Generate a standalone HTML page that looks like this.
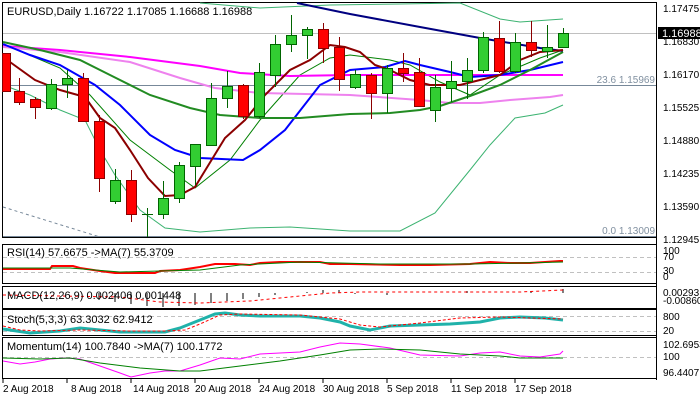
<!DOCTYPE html>
<html><head><meta charset="utf-8"><style>
body{margin:0;background:#fff;}
svg{display:block;font-family:"Liberation Sans",sans-serif;font-size:10px;}
</style></head><body>
<svg width="700" height="400" viewBox="0 0 700 400" xmlns="http://www.w3.org/2000/svg">
<rect width="700" height="400" fill="#fff"/>
<!-- main frame -->
<rect x="2.5" y="2.5" width="654" height="235" fill="none" stroke="#000"/>
<line x1="3" y1="33.5" x2="656" y2="33.5" stroke="#c0c0c0"/>
<line x1="3" y1="85.5" x2="656" y2="85.5" stroke="#778899"/>
<line x1="3" y1="236.5" x2="656" y2="236.5" stroke="#778899"/>
<polyline points="3,207 100,237" fill="none" stroke="#778899" stroke-dasharray="3,3"/>
<text x="655" y="83" text-anchor="end" fill="#8090a0">23.6 1.15969</text>
<text x="655" y="234" text-anchor="end" fill="#8090a0">0.0 1.13009</text>
<text x="7" y="15" fill="#000" font-size="11">EURUSD,Daily  1.16722 1.17085 1.16688 1.16988</text>
<!-- bollinger -->
<g fill="none" stroke="#3cb371" stroke-width="1">
<polyline points="200,3 260,8 330,5 400,4 460,3 500,19 520,22 563,19"/>
<polyline points="3,85 30,95 60,110 85,120 100,150 115,175 140,210 165,228 200,232 250,228 290,227 350,231 400,231 435,213 470,170 490,145 515,118 545,113 563,105"/>
</g>
<polyline fill="none" stroke="#008000" points="3,44 60,68 90,95 130,140 170,170 195,188 230,160 260,120 300,75 330,58 350,55 390,60 410,65 440,82 470,95 500,75 540,58 563,50"/>
<g fill="none" stroke-width="2">
<polyline stroke="#000080" points="297,3 350,14 420,27 480,38 540,48 563,51"/>
<polyline stroke="#ff00ff" points="3,46 60,50 130,57 200,66 240,73 290,76 350,75 563,75"/>
<polyline stroke="#ee82ee" points="3,47 60,52 130,62 180,78 215,88 260,93 350,95 420,100 450,103 480,103 510,100 550,97 563,95"/>
<polyline stroke="#0000ff" points="3,44 30,55 60,65 95,85 120,105 150,135 175,150 200,158 243,160 260,150 285,130 320,85 350,70 385,67 405,61 420,65 450,72 470,77 500,75 530,70 563,62"/>
<polyline stroke="#228b22" points="3,42 40,50 80,60 110,75 150,95 190,108 220,115 260,118 300,118 350,114 390,113 420,110 440,106 470,96 500,85 530,70 563,52"/>
<polyline stroke="#8b0000" points="3,57 35,80 60,90 85,97 100,118 115,128 130,150 148,178 165,196 180,195 195,187 225,138 245,120 265,95 290,70 310,60 330,45 345,47 360,52 375,65 390,70 410,80 430,85 460,85 480,80 500,75 520,60 540,52 563,50"/>
</g>
<!-- candles -->
<g id="c" stroke-width="1">
<script>/* none */</script>
</g>
<g stroke="#006400">
<line x1="19.5" y1="78" x2="19.5" y2="105" stroke="#8b0000"/><rect x="14.5" y="91.5" width="10" height="11" fill="#ff0000" stroke="#8b0000"/>
<rect x="2.5" y="53.5" width="8" height="38" fill="#ff0000" stroke="#8b0000"/>
<line x1="35.5" y1="97" x2="35.5" y2="119" stroke="#8b0000"/><rect x="30.5" y="99.5" width="10" height="8" fill="#ff0000" stroke="#8b0000"/>
<line x1="51.5" y1="79" x2="51.5" y2="110"/><rect x="46.5" y="84.5" width="10" height="24" fill="#32cd32"/>
<line x1="67.5" y1="70" x2="67.5" y2="98"/><rect x="62.5" y="78.5" width="10" height="6" fill="#32cd32"/>
<line x1="83.5" y1="73" x2="83.5" y2="122" stroke="#8b0000"/><rect x="78.5" y="78.5" width="10" height="43" fill="#ff0000" stroke="#8b0000"/>
<line x1="99.5" y1="115" x2="99.5" y2="192" stroke="#8b0000"/><rect x="94.5" y="121.5" width="10" height="57" fill="#ff0000" stroke="#8b0000"/>
<line x1="115.5" y1="169" x2="115.5" y2="204"/><rect x="110.5" y="180.5" width="10" height="21" fill="#32cd32"/>
<line x1="131.5" y1="170" x2="131.5" y2="222" stroke="#8b0000"/><rect x="126.5" y="180.5" width="10" height="34" fill="#ff0000" stroke="#8b0000"/>
<line x1="147.5" y1="208" x2="147.5" y2="237"/><line x1="142" y1="214.5" x2="153" y2="214.5"/>
<line x1="163.5" y1="181" x2="163.5" y2="219"/><rect x="158.5" y="198.5" width="10" height="16" fill="#32cd32"/>
<line x1="179.5" y1="162" x2="179.5" y2="203"/><rect x="174.5" y="165.5" width="10" height="33" fill="#32cd32"/>
<line x1="195.5" y1="144" x2="195.5" y2="185"/><rect x="190.5" y="144.5" width="10" height="22" fill="#32cd32"/>
<line x1="211.5" y1="83" x2="211.5" y2="146"/><rect x="206.5" y="98.5" width="10" height="47" fill="#32cd32"/>
<line x1="227.5" y1="71" x2="227.5" y2="108"/><rect x="222.5" y="86.5" width="10" height="12" fill="#32cd32"/>
<line x1="243.5" y1="84" x2="243.5" y2="119" stroke="#8b0000"/><rect x="238.5" y="85.5" width="10" height="31" fill="#ff0000" stroke="#8b0000"/>
<line x1="259.5" y1="63" x2="259.5" y2="118"/><rect x="254.5" y="72.5" width="10" height="44" fill="#32cd32"/>
<line x1="275.5" y1="35" x2="275.5" y2="87"/><rect x="270.5" y="44.5" width="10" height="31" fill="#32cd32"/>
<line x1="291.5" y1="15" x2="291.5" y2="52"/><rect x="286.5" y="35.5" width="10" height="9" fill="#32cd32"/>
<line x1="307.5" y1="27" x2="307.5" y2="59"/><rect x="302.5" y="29.5" width="10" height="6" fill="#32cd32"/>
<line x1="323.5" y1="23" x2="323.5" y2="63" stroke="#8b0000"/><rect x="318.5" y="29.5" width="10" height="19" fill="#ff0000" stroke="#8b0000"/>
<line x1="339.5" y1="37" x2="339.5" y2="91" stroke="#8b0000"/><rect x="334.5" y="47.5" width="10" height="32" fill="#ff0000" stroke="#8b0000"/>
<line x1="355.5" y1="70" x2="355.5" y2="89"/><rect x="350.5" y="74.5" width="10" height="13" fill="#32cd32"/>
<line x1="371.5" y1="73" x2="371.5" y2="119" stroke="#8b0000"/><rect x="366.5" y="75.5" width="10" height="18" fill="#ff0000" stroke="#8b0000"/>
<line x1="387.5" y1="65" x2="387.5" y2="113"/><rect x="382.5" y="68.5" width="10" height="25" fill="#32cd32"/>
<line x1="403.5" y1="53" x2="403.5" y2="82" stroke="#8b0000"/><rect x="398.5" y="68.5" width="10" height="5" fill="#ff0000" stroke="#8b0000"/>
<line x1="419.5" y1="58" x2="419.5" y2="107" stroke="#8b0000"/><rect x="414.5" y="72.5" width="10" height="34" fill="#ff0000" stroke="#8b0000"/>
<line x1="435.5" y1="75" x2="435.5" y2="122"/><rect x="430.5" y="87.5" width="10" height="23" fill="#32cd32"/>
<line x1="451.5" y1="61" x2="451.5" y2="102"/><rect x="446.5" y="81.5" width="10" height="7" fill="#32cd32"/>
<line x1="467.5" y1="58" x2="467.5" y2="99"/><rect x="462.5" y="70.5" width="10" height="11" fill="#32cd32"/>
<line x1="483.5" y1="32" x2="483.5" y2="73"/><rect x="478.5" y="37.5" width="10" height="33" fill="#32cd32"/>
<line x1="499.5" y1="21" x2="499.5" y2="73" stroke="#8b0000"/><rect x="494.5" y="38.5" width="10" height="33" fill="#ff0000" stroke="#8b0000"/>
<line x1="515.5" y1="33" x2="515.5" y2="73"/><rect x="510.5" y="42.5" width="10" height="29" fill="#32cd32"/>
<line x1="531.5" y1="21" x2="531.5" y2="57" stroke="#8b0000"/><rect x="526.5" y="42.5" width="10" height="8" fill="#ff0000" stroke="#8b0000"/>
<line x1="547.5" y1="25" x2="547.5" y2="58"/><rect x="542.5" y="47.5" width="10" height="4" fill="#32cd32"/>
<line x1="563.5" y1="28" x2="563.5" y2="47"/><rect x="558.5" y="33.5" width="10" height="14" fill="#32cd32"/>
</g>
<!-- right axis -->
<g fill="#000">
<text x="663" y="12">1.17475</text>
<text x="663" y="45">1.16830</text>
<text x="663" y="78">1.16170</text>
<text x="663" y="111">1.15525</text>
<text x="663" y="144">1.14880</text>
<text x="663" y="177">1.14235</text>
<text x="663" y="210">1.13590</text>
<text x="663" y="243">1.12945</text>
</g>
<rect x="658" y="27" width="42" height="12" fill="#000"/>
<text x="662" y="37" fill="#fff" font-size="11">1.16988</text>
<!-- RSI -->
<rect x="2.5" y="244.5" width="654" height="39" fill="none" stroke="#000"/>
<g stroke="#c0c0c0" stroke-dasharray="4,3"><line x1="3" y1="257.5" x2="656" y2="257.5"/><line x1="3" y1="272.5" x2="656" y2="272.5"/></g>
<polyline fill="none" stroke="#ff0000" stroke-width="2" points="3,269 50,269 52,266 73,266 80,268 100,271 115,273 155,273 160,271 180,270 200,267 215,264 235,264 250,265 260,263 280,262 320,262 330,264 350,264 400,265 430,265 470,264 490,262 510,263 530,263 560,261 563,261"/>
<polyline fill="none" stroke="#008000" points="3,268 70,268 95,270 120,272 160,271 200,270 240,265 280,263 300,262 340,263 380,264 420,264 470,264 520,263 563,262"/>
<text x="7" y="256" font-size="11">RSI(14) 57.6675  ->MA(7) 55.3709</text>
<g font-size="10"><text x="663" y="254">100</text><text x="663" y="260">70</text><text x="663" y="274">30</text><text x="663" y="280">0</text></g>
<!-- MACD -->
<rect x="2.5" y="286.5" width="654" height="22" fill="none" stroke="#000"/>
<g stroke="#808080" stroke-width="2">
<line x1="99" y1="293" x2="99" y2="300"/><line x1="115" y1="293" x2="115" y2="302"/><line x1="131" y1="293" x2="131" y2="304"/><line x1="147" y1="293" x2="147" y2="306"/><line x1="163" y1="293" x2="163" y2="307"/><line x1="179" y1="293" x2="179" y2="306"/><line x1="195" y1="293" x2="195" y2="305"/><line x1="211" y1="293" x2="211" y2="303"/><line x1="227" y1="293" x2="227" y2="301"/><line x1="243" y1="293" x2="243" y2="299"/><line x1="259" y1="293" x2="259" y2="297"/><line x1="275" y1="293" x2="275" y2="295"/>
<line x1="307" y1="293" x2="307" y2="292"/><line x1="323" y1="293" x2="323" y2="290"/><line x1="339" y1="293" x2="339" y2="290"/><line x1="355" y1="293" x2="355" y2="294"/><line x1="387" y1="293" x2="387" y2="295"/><line x1="467" y1="293" x2="467" y2="291"/><line x1="531" y1="293" x2="531" y2="291"/><line x1="563" y1="293" x2="563" y2="289"/>
</g>
<polyline fill="none" stroke="#ff0000" stroke-dasharray="3,3" points="3,295 60,296 120,297 160,302 200,303 250,301 300,296 330,293 360,292 400,292 520,292 563,290"/>
<text x="7" y="299" font-size="11">MACD(12,26,9) 0.002406 0.001448</text>
<g font-size="10"><text x="663" y="296">0.00293</text><text x="663" y="304">-0.008602</text></g>
<!-- Stoch -->
<rect x="2.5" y="309.5" width="654" height="26" fill="none" stroke="#000"/>
<g stroke="#c0c0c0" stroke-dasharray="4,3"><line x1="3" y1="316.5" x2="656" y2="316.5"/><line x1="3" y1="331.5" x2="656" y2="331.5"/></g>
<polyline fill="none" stroke="#20b2aa" stroke-width="3" points="3,329 30,333 60,331 80,328 100,330 120,332 165,332 180,328 200,320 215,314 225,313 240,315 260,316 300,316 320,318 340,322 350,326 370,330 390,326 420,325 450,324 480,322 500,318 520,317 545,318 563,320"/>
<polyline fill="none" stroke="#ff0000" stroke-dasharray="3,2" points="3,326 20,330 40,331 80,330 130,331 165,331 185,330 200,324 220,315 240,314 300,315 340,319 360,325 380,327 420,323 460,318 500,317 563,319"/>
<text x="7" y="323" font-size="11">Stoch(5,3,3) 63.3032 62.9412</text>
<g font-size="10"><text x="663" y="320">800</text><text x="663" y="334">20</text></g>
<!-- Momentum -->
<rect x="2.5" y="337.5" width="654" height="41" fill="none" stroke="#000"/>
<line x1="3" y1="357.5" x2="656" y2="357.5" stroke="#c0c0c0" stroke-dasharray="4,3"/>
<polyline fill="none" stroke="#ff00ff" points="3,361 20,364 35,362 50,359 65,358 80,359 100,366 120,373 131,377 150,373 165,371 180,371 200,365 220,358 240,359 260,354 300,352 320,347 340,343 360,344 390,348 420,355 460,356 480,353 500,352 520,356 540,357 560,354 563,351"/>
<polyline fill="none" stroke="#008000" points="3,358 40,359 70,358 100,363 140,368 180,371 200,371 240,366 280,361 320,355 350,350 380,349 420,350 460,354 500,356 520,358 550,358 563,358"/>
<text x="7" y="350" font-size="11">Momentum(14) 100.7840  ->MA(7) 100.1772</text>
<g font-size="10"><text x="663" y="348">102.6953</text><text x="663" y="360">100</text><text x="663" y="376">96.4407</text></g>
<!-- date axis -->
<g stroke="#000"><line x1="3" y1="379" x2="3" y2="383"/><line x1="67" y1="379" x2="67" y2="383"/><line x1="131" y1="379" x2="131" y2="383"/><line x1="195" y1="379" x2="195" y2="383"/><line x1="259" y1="379" x2="259" y2="383"/><line x1="323" y1="379" x2="323" y2="383"/><line x1="387" y1="379" x2="387" y2="383"/><line x1="451" y1="379" x2="451" y2="383"/><line x1="515" y1="379" x2="515" y2="383"/></g>
<g font-size="10">
<text x="3" y="392">2 Aug 2018</text><text x="71" y="392">8 Aug 2018</text><text x="133" y="392">14 Aug 2018</text><text x="195" y="392">20 Aug 2018</text><text x="259" y="392">24 Aug 2018</text><text x="323" y="392">30 Aug 2018</text><text x="387" y="392">5 Sep 2018</text><text x="451" y="392">11 Sep 2018</text><text x="515" y="392">17 Sep 2018</text>
</g>
<line x1="656.5" y1="2" x2="656.5" y2="380" stroke="#000"/>
</svg>
</body></html>
